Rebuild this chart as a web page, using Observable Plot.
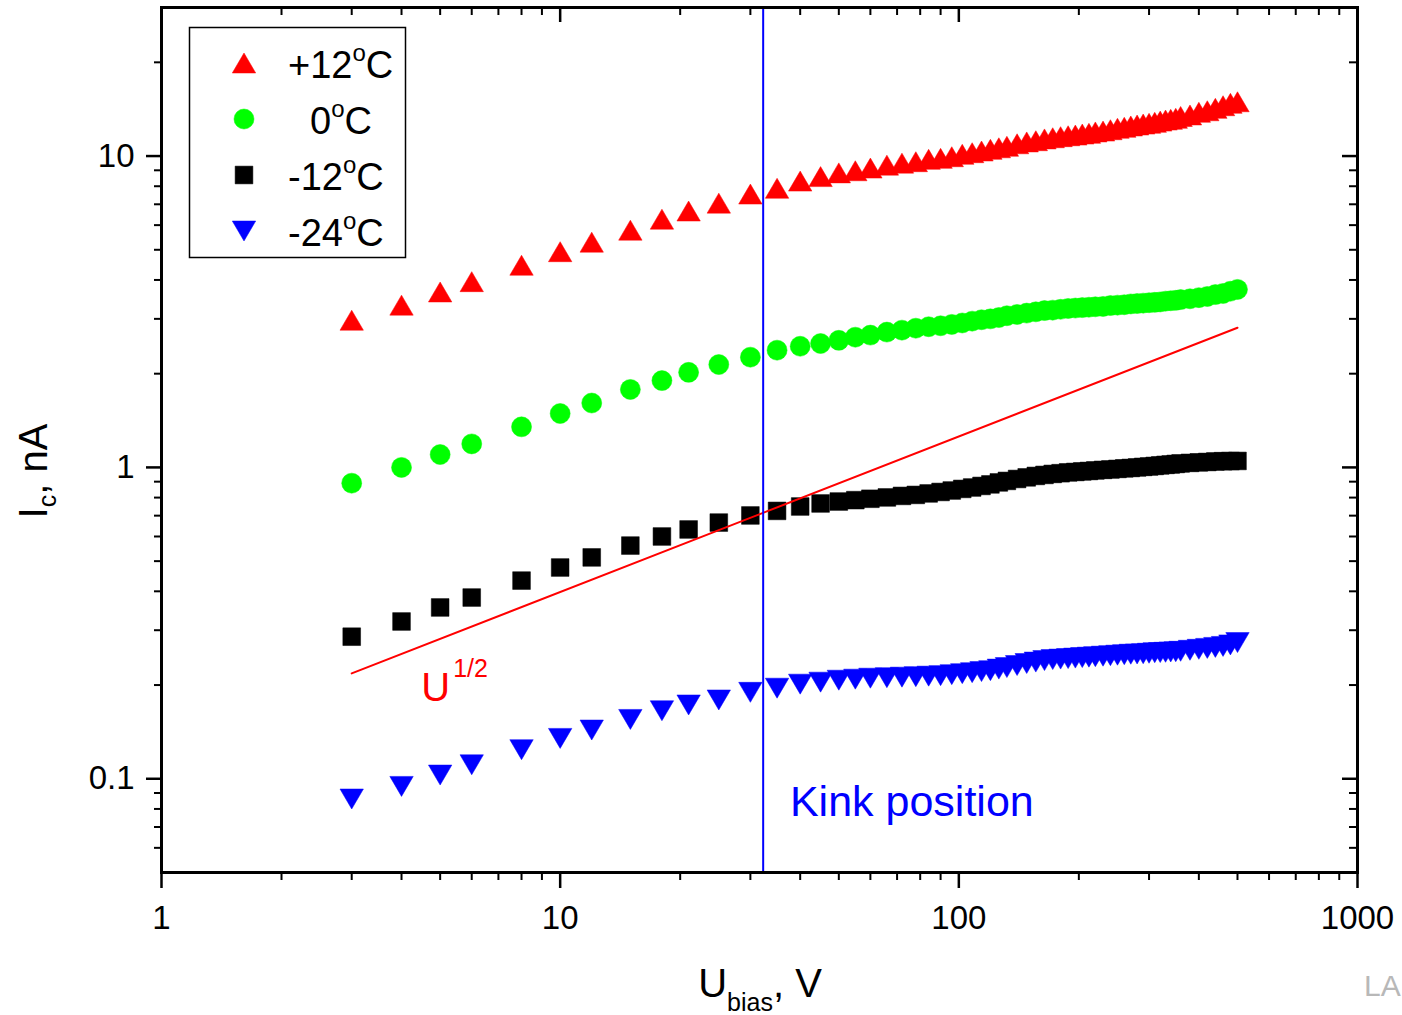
<!DOCTYPE html>
<html>
<head>
<meta charset="utf-8">
<script src="https://cdn.jsdelivr.net/npm/d3@7"></script>
<script src="https://cdn.jsdelivr.net/npm/@observablehq/plot@0.6"></script>
<style>
  html, body { margin: 0; padding: 0; background: #fff; }
  #chart { width: 1402px; height: 1015px; overflow: hidden; }
</style>
</head>
<body>
<div id="chart"></div>
<script>
// ---------- data ----------
const voltages = [3,4,5,6,8,10,12,15,18,21,25,30,35,40,45,50,55,60,66,72,78,84,90,96,102,108,114,120,126,132,140,148,156,164,172,180,188,196,204,212,220,230,240,250,260,270,280,290,300,310,320,330,340,350,360,380,400,420,440,460,480,500];

const icPlus12 = [2.97,3.32,3.66,3.95,4.46,4.93,5.29,5.78,6.27,6.66,7.06,7.55,7.88,8.31,8.59,8.83,8.97,9.15,9.35,9.49,9.59,9.76,9.83,9.95,10.13,10.25,10.38,10.51,10.63,10.75,10.95,11.10,11.20,11.35,11.45,11.54,11.62,11.68,11.77,11.83,11.95,12.03,12.15,12.28,12.37,12.49,12.58,12.67,12.74,12.83,12.95,13.05,13.12,13.22,13.40,13.55,13.82,13.98,14.23,14.51,14.77,14.94];

const icZero = [0.89,1.00,1.10,1.19,1.35,1.49,1.61,1.78,1.90,2.02,2.14,2.26,2.38,2.45,2.50,2.56,2.62,2.66,2.72,2.76,2.80,2.83,2.85,2.88,2.91,2.95,2.98,3.00,3.03,3.07,3.10,3.13,3.16,3.19,3.20,3.22,3.24,3.25,3.26,3.27,3.28,3.29,3.31,3.32,3.33,3.35,3.36,3.37,3.38,3.39,3.40,3.42,3.43,3.44,3.46,3.48,3.51,3.54,3.59,3.62,3.68,3.73];

const icMinus12 = [0.286,0.320,0.355,0.382,0.433,0.477,0.514,0.561,0.600,0.632,0.665,0.701,0.725,0.749,0.766,0.777,0.785,0.793,0.801,0.810,0.816,0.825,0.834,0.843,0.853,0.862,0.872,0.882,0.895,0.905,0.918,0.929,0.939,0.946,0.953,0.958,0.964,0.967,0.971,0.974,0.978,0.982,0.985,0.989,0.993,0.996,1.000,1.004,1.007,1.011,1.015,1.019,1.022,1.026,1.030,1.034,1.038,1.041,1.045,1.047,1.048,1.049];

const icMinus24 = [0.0861,0.0945,0.1028,0.1109,0.1240,0.1348,0.1434,0.1551,0.1654,0.1726,0.1791,0.1895,0.1954,0.2013,0.2043,0.2073,0.2089,0.2104,0.2112,0.2120,0.2128,0.2136,0.2144,0.2160,0.2176,0.2192,0.2209,0.2225,0.2250,0.2276,0.2310,0.2345,0.2370,0.2396,0.2414,0.2423,0.2432,0.2441,0.2450,0.2458,0.2467,0.2476,0.2485,0.2494,0.2503,0.2512,0.2517,0.2521,0.2530,0.2540,0.2543,0.2548,0.2554,0.2558,0.2567,0.2586,0.2605,0.2623,0.2642,0.2661,0.2691,0.2738];

const seriesNames = ["+12", "0", "-12", "-24"];

// U^(1/2) guide line end points
const guideU = [3, 500];
const guideI = [0.218, 2.81];

// kink position (V)
const kinkU = [32.3];

// axis ticks
const xMajor = [1, 10, 100, 1000];
const xMinor = [2,3,4,5,6,7,8,9,20,30,40,50,60,70,80,90,200,300,400,500,600,700,800,900];
const yMajor = [0.1, 1, 10];
const yMinor = [0.06,0.07,0.08,0.09,0.2,0.3,0.4,0.5,0.6,0.7,0.8,0.9,2,3,4,5,6,7,8,9,20];

// ---------- layout ----------
const W = 1402, H = 1015;
const mt = 7, mr = 45, mb = 143, ml = 161;
const fw = W - ml - mr, fh = H - mt - mb;
const FONT = "'Liberation Sans', Arial, Helvetica, sans-serif";

// bbox-centred triangle symbols (as in the original software)
const triUp = { draw(ctx, size) { const r = Math.sqrt(size / Math.PI), w = 1.17 * r; ctx.moveTo(0, -r); ctx.lineTo(w, r); ctx.lineTo(-w, r); ctx.closePath(); } };
const triDown = { draw(ctx, size) { const r = Math.sqrt(size / Math.PI), w = 1.17 * r; ctx.moveTo(0, r); ctx.lineTo(w, -r); ctx.lineTo(-w, -r); ctx.closePath(); } };

const seriesValues = [icPlus12, icZero, icMinus12, icMinus24];
const seriesColors = ["#ff0000", "#00ff00", "#000000", "#0000ff"];
const seriesSymbols = [triUp, "circle", "square", triDown];

const seriesRows = seriesValues.map(vals => voltages.map((u, k) => ({ u, i: vals[k] })));
const guideRows = guideU.map((u, k) => ({ u, i: guideI[k] }));

const dotMarks = seriesRows.map((rows, s) =>
  Plot.dot(rows, { x: "u", y: "i", r: 10, symbol: seriesSymbols[s], fill: seriesColors[s], stroke: seriesColors[s], strokeWidth: 0.5 })
);

const plot = Plot.plot({
  width: W, height: H,
  marginTop: mt, marginRight: mr, marginBottom: mb, marginLeft: ml,
  style: { fontFamily: FONT, color: "#000", background: "#fff", overflow: "visible" },
  x: { type: "log", domain: [1, 1000] },
  y: { type: "log", domain: [0.05, 30] },
  marks: [
    ...dotMarks,
    Plot.line(guideRows, { x: "u", y: "i", stroke: "#ff0000", strokeWidth: 2 }),
    Plot.ruleX(kinkU, { x: d => d, stroke: "#0000ff", strokeWidth: 2 }),
    Plot.text([{ u: 37.7, i: 0.0839, t: "Kink position" }], { x: "u", y: "i", text: "t", textAnchor: "start", fill: "#0000ff", fontSize: 43 }),
    Plot.text([{ u: 4.48, i: 0.196, t: "U" }], { x: "u", y: "i", text: "t", textAnchor: "start", fill: "#ff0000", fontSize: 40 }),
    Plot.text([{ u: 4.48, i: 0.196, t: "1/2" }], { x: "u", y: "i", text: "t", textAnchor: "start", fill: "#ff0000", fontSize: 25, dx: 32, dy: -19 }),
    // outward ticks bottom / left with labels
    Plot.axisX(xMajor, { anchor: "bottom", tickSize: 16, tickPadding: 17, tickFormat: d => String(d), fontSize: 33, strokeWidth: 2.5, label: null }),
    Plot.axisX(xMinor, { anchor: "bottom", tickSize: 8, tickFormat: () => "", strokeWidth: 2, label: null }),
    Plot.axisY(yMajor, { anchor: "left", tickSize: 15, tickPadding: 12, tickFormat: d => String(d), fontSize: 33, strokeWidth: 2.5, label: null }),
    Plot.axisY(yMinor, { anchor: "left", tickSize: 7, tickFormat: () => "", strokeWidth: 2, label: null }),
    // inward mirror ticks top / right
    Plot.ruleX(xMajor, { x: d => d, insetBottom: fh - 15, strokeWidth: 2.5 }),
    Plot.ruleX(xMinor, { x: d => d, insetBottom: fh - 8, strokeWidth: 2 }),
    Plot.ruleY(yMajor, { y: d => d, insetLeft: fw - 15, strokeWidth: 2.5 }),
    Plot.ruleY(yMinor, { y: d => d, insetLeft: fw - 8, strokeWidth: 2 }),
    Plot.frame({ stroke: "#000", strokeWidth: 3 })
  ]
});

document.getElementById("chart").appendChild(plot);

// ---------- axis titles, legend (drawn onto the Plot SVG) ----------
const svg = d3.select(plot);

// y title: I_c, nA
const yt = svg.append("text")
  .attr("transform", "translate(47,471) rotate(-90)")
  .attr("text-anchor", "middle")
  .attr("font-family", FONT).attr("font-size", 40).attr("fill", "#000");
yt.append("tspan").text("I");
yt.append("tspan").attr("font-size", 25).attr("dy", 9).text("c");
yt.append("tspan").attr("dy", -9).text(", nA");

// x title: U_bias, V
const xt = svg.append("text")
  .attr("x", 760).attr("y", 997)
  .attr("text-anchor", "middle")
  .attr("font-family", FONT).attr("font-size", 40).attr("fill", "#000");
xt.append("tspan").text("U");
xt.append("tspan").attr("font-size", 25).attr("dy", 14).text("bias");
xt.append("tspan").attr("dy", -14).text(", V");

// legend
const lg = svg.append("g").attr("font-family", FONT).attr("fill", "#000").attr("text-anchor", "start");
lg.append("rect").attr("x", 189.5).attr("y", 27.5).attr("width", 216).attr("height", 230)
  .attr("fill", "#fff").attr("stroke", "#000").attr("stroke-width", 1.5);
const legendTextX = [288, 310, 288, 288];
seriesNames.forEach((name, s) => {
  const cy = 63 + 56 * s;
  const sym = typeof seriesSymbols[s] === "string"
    ? (seriesSymbols[s] === "circle" ? d3.symbolCircle : d3.symbolSquare)
    : seriesSymbols[s];
  lg.append("path")
    .attr("transform", `translate(244,${cy})`)
    .attr("d", d3.symbol().type(sym).size(100 * Math.PI)())
    .attr("fill", seriesColors[s]).attr("stroke", seriesColors[s]).attr("stroke-width", 0.5);
  const t = lg.append("text").attr("x", legendTextX[s]).attr("y", cy + 15)
    .attr("text-anchor", "start").attr("font-size", 38);
  t.append("tspan").text(name);
  t.append("tspan").attr("font-size", 24).attr("dy", -17).text("o");
  t.append("tspan").attr("dy", 17).text("C");
});

// faint logo fragment at the bottom-right corner of the reference
svg.append("text").attr("x", 1364).attr("y", 996).attr("text-anchor", "start").attr("font-family", FONT)
  .attr("font-size", 30).attr("fill", "#b8b8b8").text("LA");
</script>
</body>
</html>
